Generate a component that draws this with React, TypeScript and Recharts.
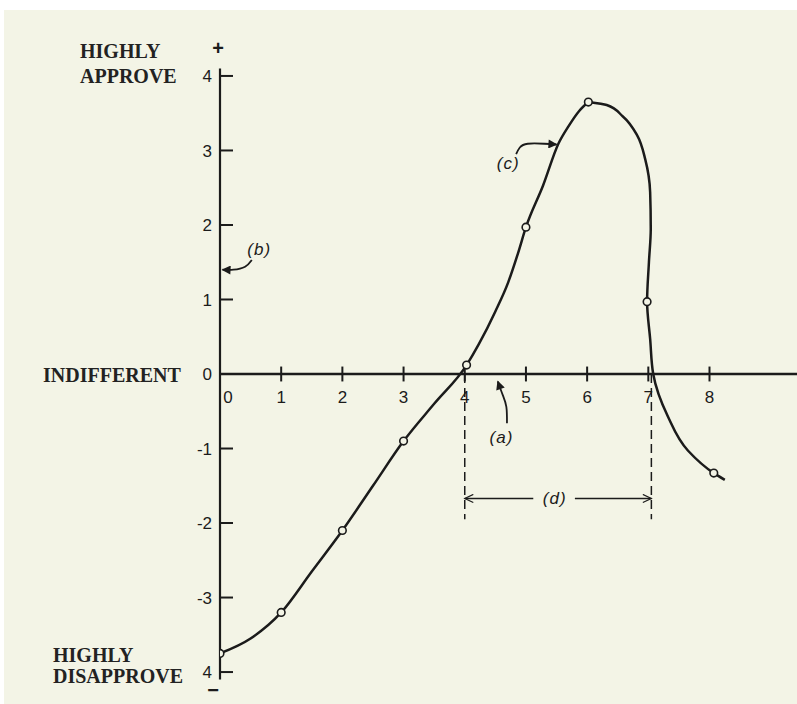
import React from "react";
import {
  ComposedChart,
  Line,
  Scatter,
  XAxis,
  YAxis,
  ReferenceLine,
  ReferenceDot,
} from "recharts";

// amount of behaviour (x) against approval (y)
const xTickValues = [1, 2, 3, 4, 5, 6, 7, 8];
const xLabelValues = [0, 1, 2, 3, 4, 5, 6, 7, 8];
const xLabelTexts = ["0", "1", "2", "3", "4", "5", "6", "7", "8"];

const yTickValues = [4, 3, 2, 1, 0, -1, -2, -3, -4];
const yTickTexts = ["4", "3", "2", "1", "0", "-1", "-2", "-3", "4"];

const sideTop = ["HIGHLY", "APPROVE"];
const sideMid = ["INDIFFERENT"];
const sideBottom = ["HIGHLY", "DISAPPROVE"];

// plotted circles
const markerX = [0, 1, 2, 3, 4.03, 5, 6.02, 6.98, 8.07];
const markerY = [-3.75, -3.2, -2.1, -0.9, 0.12, 1.97, 3.65, 0.97, -1.33];

// curve: rising part up to the peak
const riseX = [0, 0.5, 1, 1.5, 2, 2.5, 3, 3.5, 4.03, 4.23, 4.5, 4.71, 4.87, 5, 5.28, 5.53, 5.7, 5.87, 6.02];
const riseY = [-3.75, -3.55, -3.2, -2.65, -2.1, -1.5, -0.9, -0.4, 0.12, 0.4, 0.84, 1.23, 1.62, 1.97, 2.53, 3.09, 3.33, 3.53, 3.65];

// falling part, listed from the bottom end up to the peak
const fallX = [8.25, 8.07, 7.65, 7.32, 7.08, 7.03, 6.98, 7.01, 7.04, 7.03, 6.95, 6.82, 6.58, 6.32, 6.02];
const fallY = [-1.42, -1.33, -1.03, -0.57, 0, 0.47, 0.97, 1.5, 1.95, 2.44, 2.88, 3.2, 3.46, 3.61, 3.65];

// annotation arrows (a), (b), (c)
const arrowAX = [4.69, 4.68, 4.62, 4.54];
const arrowAY = [-0.66, -0.44, -0.28, -0.1];
const arrowBX = [0.52, 0.41, 0.22, 0.04];
const arrowBY = [1.53, 1.44, 1.4, 1.4];
const arrowCX = [4.84, 4.9, 5.03, 5.3, 5.5];
const arrowCY = [2.95, 3.04, 3.09, 3.09, 3.08];

const noteNames = ["(a)", "(b)", "(c)", "(d)"];
const noteX = [4.6, 0.64, 4.71, 5.47];
const noteY = [-0.85, 1.68, 2.83, -1.67];

// range of tolerable behaviour (d)
const rangeFrom = 4;
const rangeTo = 7.05;
const rangeLevel = -1.67;
const rangeDepth = -1.95;

const zip = (xs: number[], ys: number[]) => xs.map((x, i) => ({ x, y: ys[i] }));

const INK = "#1b1b1b";
const PAPER = "#f3f4e6";
const SERIF = "'Liberation Serif', 'Times New Roman', serif";
const LETTER = "'Liberation Sans', Arial, sans-serif";

const textShape =
  (text: string, dx: number, dy: number, style: React.SVGProps<SVGTextElement>) =>
  (p: any) =>
    (
      <text x={p.cx + dx} y={p.cy + dy} textAnchor="middle" {...style}>
        {text}
      </text>
    );

const YTick = (props: any) => {
  const { x, y, payload } = props;
  const i = yTickValues.indexOf(payload.value);
  let side: string[] = [];
  let offsets: number[] = [];
  let left = 0;
  if (payload.value === 4) {
    side = sideTop;
    offsets = [-18, 7];
    left = -140;
  } else if (payload.value === 0) {
    side = sideMid;
    offsets = [8];
    left = -177;
  } else if (payload.value === -4) {
    side = sideBottom;
    offsets = [-10, 11];
    left = -167;
  }
  return (
    <g>
      <line x1={x} x2={x + 13} y1={y} y2={y} stroke={INK} strokeWidth={2} />
      <text
        x={x - 8}
        y={y}
        dy="0.36em"
        textAnchor="end"
        fontFamily={LETTER}
        fontSize={17}
        fill={INK}
      >
        {yTickTexts[i]}
      </text>
      {side.map((s, k) => (
        <text
          key={s + k}
          x={x + left}
          y={y + offsets[k]}
          fontFamily={SERIF}
          fontWeight="bold"
          fontSize={20}
          fill="#222"
        >
          {s}
        </text>
      ))}
    </g>
  );
};

export default function App() {
  const markers = zip(markerX, markerY);
  const rise = zip(riseX, riseY);
  const fall = zip(fallX, fallY);
  const noteStyle = {
    fontFamily: LETTER,
    fontStyle: "italic" as const,
    fontSize: 17,
    letterSpacing: 1,
    fill: INK,
  };

  return (
    <div
      style={{
        position: "absolute",
        left: 0,
        top: 0,
        width: 797,
        height: 704,
        overflow: "hidden",
        background: "#fff",
      }}
    >
      <div
        style={{
          position: "absolute",
          left: 4,
          top: 10,
          width: 793,
          height: 694,
          background: PAPER,
        }}
      />
      <div style={{ position: "absolute", left: 0, top: 0 }}>
        <ComposedChart
          width={797}
          height={704}
          margin={{ top: 68.5, right: 0, bottom: 24.5, left: 160 }}
        >
          <defs>
            <marker
              id="headFill"
              viewBox="0 0 10 10"
              refX={9}
              refY={5}
              markerWidth={11}
              markerHeight={9}
              markerUnits="userSpaceOnUse"
              orient="auto"
            >
              <path d="M0,0 L10,5 L0,10 z" fill={INK} />
            </marker>
            <marker
              id="headOpen"
              viewBox="0 0 10 10"
              refX={9.5}
              refY={5}
              markerWidth={11}
              markerHeight={9}
              markerUnits="userSpaceOnUse"
              orient="auto-start-reverse"
            >
              <path d="M0,0.5 L9.5,5 L0,9.5" fill="none" stroke={INK} strokeWidth={1.3} />
            </marker>
          </defs>

          <XAxis
            type="number"
            dataKey="x"
            domain={[0, 9.43]}
            allowDataOverflow
            hide
          />
          <YAxis
            type="number"
            dataKey="y"
            domain={[-4.1, 4.1]}
            allowDataOverflow
            ticks={yTickValues}
            interval={0}
            width={60}
            tickSize={0}
            tickMargin={0}
            tickLine={false}
            axisLine={{ stroke: INK, strokeWidth: 2.2 }}
            tick={<YTick />}
          />

          <ReferenceLine y={0} stroke={INK} strokeWidth={2.4} />
          {xTickValues.map((v) => (
            <ReferenceLine
              key={"xt" + v}
              segment={[
                { x: v, y: -0.1 },
                { x: v, y: 0.1 },
              ]}
              stroke={INK}
              strokeWidth={2}
            />
          ))}
          {xLabelValues.map((v, i) => (
            <ReferenceDot
              key={"xl" + v}
              x={v}
              y={0}
              r={0}
              shape={textShape(xLabelTexts[i], v === 0 ? 8 : 0, 29, {
                fontFamily: LETTER,
                fontSize: 17,
                fill: INK,
              })}
            />
          ))}

          <ReferenceDot
            x={0}
            y={4.38}
            r={0}
            ifOverflow="visible"
            shape={textShape("+", -2, 7, {
              fontFamily: LETTER,
              fontWeight: "bold",
              fontSize: 20,
              fill: INK,
            })}
          />
          <ReferenceDot
            x={0}
            y={-4.24}
            r={0}
            ifOverflow="visible"
            shape={textShape("\u2212", -7, 7, {
              fontFamily: LETTER,
              fontWeight: "bold",
              fontSize: 20,
              fill: INK,
            })}
          />

          {[rangeFrom, rangeTo].map((v) => (
            <ReferenceLine
              key={"dash" + v}
              segment={[
                { x: v, y: 0 },
                { x: v, y: rangeDepth },
              ]}
              stroke={INK}
              strokeWidth={1.5}
              strokeDasharray="9 5"
            />
          ))}
          <ReferenceLine
            segment={[
              { x: rangeFrom, y: rangeLevel },
              { x: noteX[3] - 0.35, y: rangeLevel },
            ]}
            stroke={INK}
            strokeWidth={1.4}
            markerStart="url(#headOpen)"
          />
          <ReferenceLine
            segment={[
              { x: noteX[3] + 0.33, y: rangeLevel },
              { x: rangeTo, y: rangeLevel },
            ]}
            stroke={INK}
            strokeWidth={1.4}
            markerEnd="url(#headOpen)"
          />

          <Line
            data={zip(arrowAX, arrowAY)}
            dataKey="y"
            type="natural"
            stroke={INK}
            strokeWidth={1.8}
            dot={false}
            markerEnd="url(#headFill)"
            isAnimationActive={false}
          />
          <Line
            data={zip(arrowBX, arrowBY)}
            dataKey="y"
            type="natural"
            stroke={INK}
            strokeWidth={1.8}
            dot={false}
            markerEnd="url(#headFill)"
            isAnimationActive={false}
          />
          <Line
            data={zip(arrowCX, arrowCY)}
            dataKey="y"
            type="natural"
            stroke={INK}
            strokeWidth={1.8}
            dot={false}
            markerEnd="url(#headFill)"
            isAnimationActive={false}
          />

          {noteNames.map((n, i) => (
            <ReferenceDot
              key={n}
              x={noteX[i]}
              y={noteY[i]}
              r={0}
              shape={textShape(n, 0, 6, noteStyle)}
            />
          ))}

          <Line
            data={rise}
            dataKey="y"
            type="monotone"
            stroke={INK}
            strokeWidth={2.5}
            dot={false}
            isAnimationActive={false}
          />
          <Line
            data={fall}
            dataKey="y"
            type="monotoneY"
            stroke={INK}
            strokeWidth={2.5}
            dot={false}
            isAnimationActive={false}
          />
          <Scatter
            data={markers}
            isAnimationActive={false}
            shape={(p: any) => (
              <circle
                cx={p.cx}
                cy={p.cy}
                r={3.8}
                fill={PAPER}
                stroke={INK}
                strokeWidth={1.6}
              />
            )}
          />
        </ComposedChart>
      </div>
    </div>
  );
}
